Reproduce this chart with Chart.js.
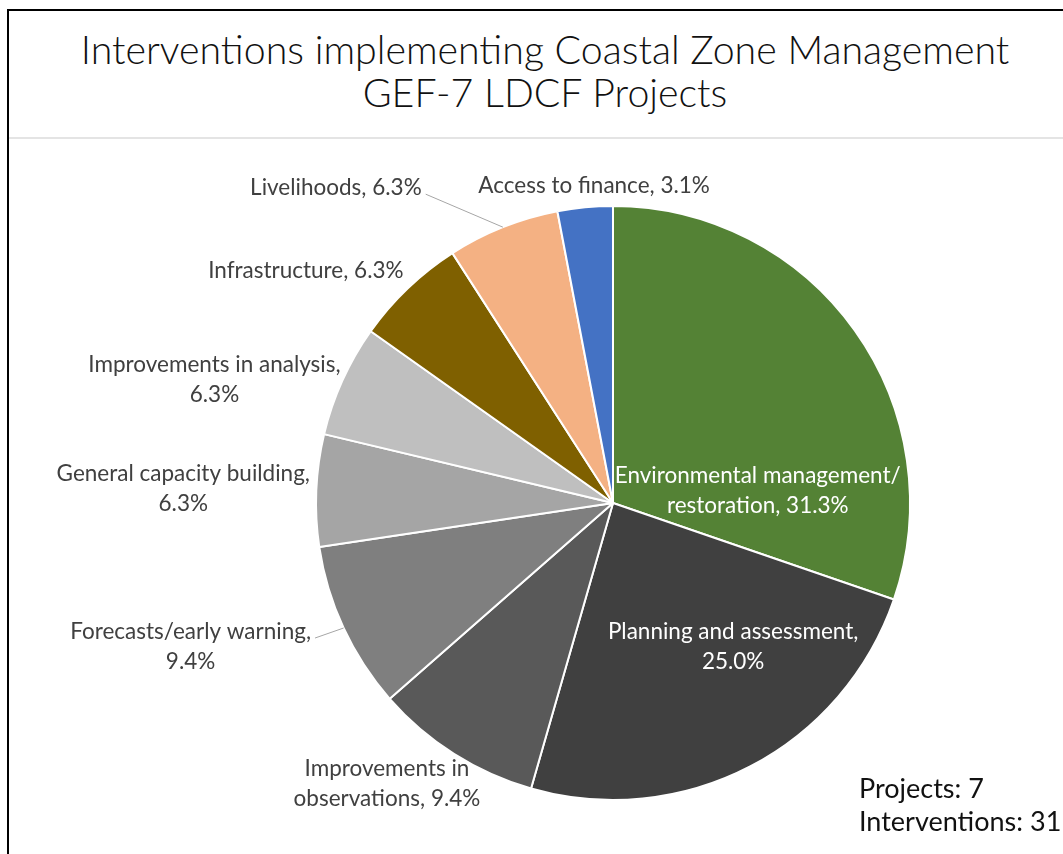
<!DOCTYPE html>
<html>
<head>
<meta charset="utf-8">
<script src="https://cdn.jsdelivr.net/npm/chart.js@4.4.1/dist/chart.umd.min.js"></script>
<style>
  html, body { margin: 0; padding: 0; background: #fff; overflow: hidden; }
  .frame { position: absolute; left: 7px; top: 9px; width: 1072px; height: 845px;
           border-top: 2px solid #000; border-left: 2px solid #000; background: #fff; }
  .title { position: absolute; left: 0; top: 16px; width: 1072px; text-align: center;
           font-family: Lato, sans-serif; font-weight: 300; font-size: 39.3px; line-height: 43px; color: #111; }
  .rule { position: absolute; left: 0; top: 126px; width: 1072px; height: 2px; background: #e4e4e4; }
  .counts { position: absolute; left: 850px; top: 760px; white-space: nowrap;
            font-family: Lato, sans-serif; font-size: 27px; line-height: 33px; color: #111; }
  canvas { position: absolute; left: 0; top: 0; }
</style>
</head>
<body>
<div class="frame">
  <div class="title">Interventions implementing Coastal Zone Management<br>GEF-7 LDCF Projects</div>
  <div class="rule"></div>
  <canvas id="pie" width="1072" height="845"></canvas>
  <div class="counts" id="counts"></div>
</div>
<script>
// ---- data ----
const categories = [
  'Environmental management/restoration',
  'Planning and assessment',
  'Improvements in observations',
  'Forecasts/early warning',
  'General capacity building',
  'Improvements in analysis',
  'Infrastructure',
  'Livelihoods',
  'Access to finance'
];
const values = [31.3, 25.0, 9.4, 9.4, 6.3, 6.3, 6.3, 6.3, 3.1];
const projectCount = 7;
const interventionCount = 31;

// ---- styling / label layout ----
const sliceColors = ['#548235', '#404040', '#595959', '#7f7f7f', '#a5a5a5', '#bfbfbf', '#7f6000', '#f4b183', '#4472c4'];
const labelInside = [true, true, false, false, false, false, false, false, false];
const leaderLine  = [false, false, false, true, false, false, false, true, false];
// offset of each label centre from the midpoint of its slice's outer edge
const labelNudge = [[-97, 160], [-17, -120], [-67, 30], [-153, 19], [-133, -2], [-128, -1], [-102, -18], [-167, -39], [9, -22]];
const WRAP_CHARS = 26;

document.getElementById('counts').innerHTML =
  'Projects: ' + projectCount + '<br>Interventions: ' + interventionCount;

function wrapLabel(text) {
  const parts = text.split(/(?<=[ \/])/);
  const lines = [];
  let cur = '';
  parts.forEach(p => {
    if (cur && (cur + p).trim().length > WRAP_CHARS) { lines.push(cur.trim()); cur = p; }
    else cur += p;
  });
  if (cur) lines.push(cur.trim());
  return lines;
}

const sliceLabels = {
  id: 'sliceLabels',
  afterDatasetsDraw(chart) {
    const ctx = chart.ctx;
    const meta = chart.getDatasetMeta(0);
    const lh = 30;
    ctx.save();
    ctx.font = '22.5px Lato';
    ctx.textAlign = 'center';
    ctx.textBaseline = 'middle';
    meta.data.forEach((arc, i) => {
      const p = arc.getProps(['x', 'y', 'startAngle', 'endAngle', 'outerRadius'], true);
      const mid = (p.startAngle + p.endAngle) / 2;
      const ax = p.x + Math.cos(mid) * p.outerRadius;
      const ay = p.y + Math.sin(mid) * p.outerRadius;
      const cx = ax + labelNudge[i][0];
      const cy = ay + labelNudge[i][1];
      const lines = wrapLabel(categories[i] + ', ' + values[i].toFixed(1) + '%');
      const top = cy - (lines.length - 1) * lh / 2;
      if (leaderLine[i]) {
        const w = ctx.measureText(lines[0]).width;
        ctx.strokeStyle = '#a6a6a6';
        ctx.lineWidth = 1;
        ctx.beginPath();
        ctx.moveTo(cx + w / 2 + 4, top + 6);
        ctx.lineTo(ax, ay);
        ctx.stroke();
      }
      ctx.fillStyle = labelInside[i] ? '#ffffff' : '#404040';
      lines.forEach((t, k) => ctx.fillText(t, cx, top + k * lh));
    });
    ctx.restore();
  }
};

new Chart(document.getElementById('pie'), {
  type: 'pie',
  data: {
    labels: categories,
    datasets: [{
      data: values,
      backgroundColor: sliceColors,
      borderColor: '#ffffff',
      borderWidth: 2
    }]
  },
  options: {
    responsive: false,
    animation: false,
    events: [],
    layout: { padding: { left: 306, right: 170, top: 194, bottom: 55 } },
    plugins: {
      legend: { display: false },
      tooltip: { enabled: false },
      title: { display: false }
    }
  },
  plugins: [sliceLabels]
});
</script>
</body>
</html>
